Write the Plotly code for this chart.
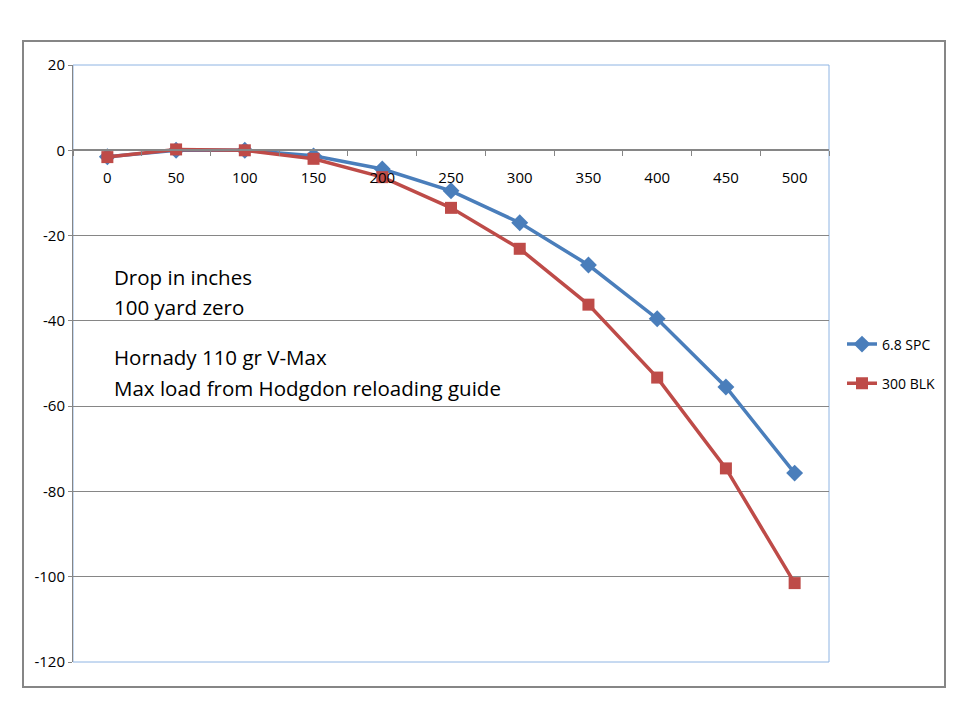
import plotly.graph_objects as go

ranges = ["0", "50", "100", "150", "200", "250", "300", "350", "400", "450", "500"]
spc68 = [-1.5, 0.0, 0.0, -1.3, -4.4, -9.5, -17.0, -26.9, -39.5, -55.5, -75.7]
blk300 = [-1.6, 0.2, 0.0, -2.0, -6.3, -13.5, -23.1, -36.2, -53.3, -74.6, -101.5]
y_tick_vals = [20, 0, -20, -40, -60, -80, -100, -120]
y_tick_text = ["20", "0", "-20", "-40", "-60", "-80", "-100", "-120"]
notes = ["Drop in inches", "100 yard zero", "Hornady 110 gr V-Max",
         "Max load from Hodgdon reloading guide"]
note_px_y = [277, 307, 357, 388]

L, R, T, B = 73, 829, 65, 662
W, H = 960, 720
pw, ph = R - L, B - T

def px(x):
    return (x - L) / pw

def py(y):
    return (B - y) / ph

fig = go.Figure()
fig.add_trace(go.Scatter(
    x=ranges, y=spc68, name="6.8 SPC", mode="lines+markers",
    line=dict(color="#4a7ebb", width=3.5),
    marker=dict(symbol="diamond", size=13, color="#4a7ebb"),
    legendgroup="a"))
fig.add_trace(go.Scatter(
    x=ranges, y=blk300, name="300 BLK", mode="lines+markers",
    line=dict(color="#be4b48", width=3.5),
    marker=dict(symbol="square", size=12, color="#be4b48"),
    legendgroup="b"))

annotations = []
for t, yy in zip(notes, note_px_y):
    annotations.append(dict(
        text=t, xref="paper", yref="paper", x=px(112), y=py(yy),
        xanchor="left", yanchor="middle", showarrow=False,
        font=dict(family="Open Sans", size=20.5, color="#000000")))

shapes = [
    dict(type="rect", xref="paper", yref="paper", x0=0, x1=1, y0=0, y1=1,
         line=dict(color="#8eb4e3", width=1), layer="below"),
    dict(type="rect", xref="paper", yref="paper",
         x0=px(23), x1=px(945), y0=py(687), y1=py(41),
         line=dict(color="#868686", width=2), layer="below"),
]

fig.update_layout(
    width=W, height=H,
    margin=dict(l=L, r=W - R, t=T, b=H - B),
    paper_bgcolor="white", plot_bgcolor="white",
    showlegend=True,
    legend=dict(x=px(842), y=py(364), xanchor="left", yanchor="middle",
                font=dict(family="Open Sans", size=14, color="#000000"),
                tracegroupgap=18, traceorder="grouped",
                bgcolor="rgba(0,0,0,0)"),
    annotations=annotations,
    shapes=shapes,
    xaxis=dict(
        type="category", range=[-0.5, 10.5],
        anchor="free", position=120 / 140,
        showline=True, linecolor="#868686", linewidth=1.5,
        ticks="outside", tickson="boundaries", ticklen=5, tickcolor="#868686",
        ticklabelstandoff=14,
        showgrid=False, zeroline=False,
        tickfont=dict(family="Open Sans", size=15, color="#000000"),
    ),
    yaxis=dict(
        range=[-120, 20], tickmode="array",
        tickvals=y_tick_vals, ticktext=y_tick_text,
        showline=True, linecolor="#868686", linewidth=1,
        ticks="outside", ticklen=4, tickcolor="#868686",
        showgrid=True, gridcolor="#868686", gridwidth=1,
        zeroline=False,
        tickfont=dict(family="Open Sans", size=15, color="#000000"),
    ),
)

fig.write_html("out.html", config={"displayModeBar": False},
               post_script="document.body.style.margin='0';")
